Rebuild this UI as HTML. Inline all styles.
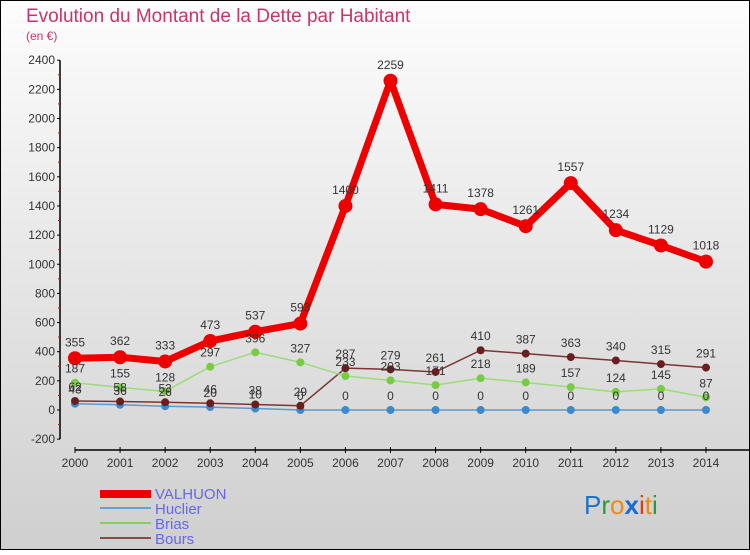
<!DOCTYPE html>
<html><head><meta charset="utf-8"><style>
body{margin:0;width:750px;height:550px;overflow:hidden;font-family:"Liberation Sans",sans-serif}
</style></head><body>
<svg id="c" width="750" height="550" xmlns="http://www.w3.org/2000/svg">
<defs><linearGradient id="bg" x1="0" y1="0" x2="0" y2="1"><stop offset="0" stop-color="#fdfdfd"/><stop offset="1" stop-color="#cfcfcf"/></linearGradient></defs>
<rect x="0.5" y="0.5" width="749" height="549" fill="url(#bg)" stroke="#000"/>
<text x="26" y="22" font-size="19" fill="#cc3366">Evolution du Montant de la Dette par Habitant</text>
<text x="26" y="40" font-size="12" fill="#cc3366">(en €)</text>
<g id="axes"></g><g id="series"></g><g id="labels"></g>
<g>
<rect x="100" y="490" width="51" height="8" fill="#e00"/>
<text x="155" y="499" font-size="15" fill="#6666ee">VALHUON</text>
<rect x="100" y="507" width="51" height="2" fill="#6aa0cc"/>
<text x="155" y="514" font-size="15" fill="#6666ee">Huclier</text>
<rect x="100" y="522" width="51" height="2" fill="#88cc66"/>
<text x="155" y="529" font-size="15" fill="#6666ee">Brias</text>
<rect x="100" y="537" width="51" height="2" fill="#8a4a4a"/>
<text x="155" y="544" font-size="15" fill="#6666ee">Bours</text>
</g>
<g font-size="26" font-family="Liberation Sans, sans-serif">
<text x="584" y="514"><tspan fill="#1a73d0">P</tspan><tspan fill="#2a9a3a">r</tspan><tspan fill="#f08a10">o</tspan><tspan fill="#1a6ad0" font-weight="bold">x</tspan><tspan fill="#e83a10">i</tspan><tspan fill="#f08a10">t</tspan><tspan fill="#2a9a3a">i</tspan></text>
</g>
</svg>
<script>
const years=["2000","2001","2002","2003","2004","2005","2006","2007","2008","2009","2010","2011","2012","2013","2014"];
const valhuon=[355,362,333,473,537,593,1400,2259,1411,1378,1261,1557,1234,1129,1018];
const huclier=[43,36,26,20,10,0,0,0,0,0,0,0,0,0,0];
const brias=[187,155,128,297,396,327,233,203,171,218,189,157,124,145,87];
const bours=[62,58,53,46,38,29,287,279,261,410,387,363,340,315,291];
const yTicks=[-200,0,200,400,600,800,1000,1200,1400,1600,1800,2000,2200,2400];
const NS="http://www.w3.org/2000/svg";
const X=i=>75+i*(706-75)/14;
const Y=v=>410-v*(29.15/200);
function mk(p,t,a){const e=document.createElementNS(NS,t);for(const k in a)e.setAttribute(k,a[k]);p.appendChild(e);return e;}
const ax=document.getElementById('axes');
const yl=mk(ax,'line',{x1:60,y1:Y(2400),x2:60,y2:Y(-200),stroke:'#000','stroke-width':1.5});


yTicks.forEach(v=>{
 mk(ax,'line',{x1:57,y1:Y(v),x2:60,y2:Y(v),stroke:'#000'});
 if(v<2400){mk(ax,'line',{x1:58,y1:Y(v+100),x2:60,y2:Y(v+100),stroke:'#e00'});}
 const t=mk(ax,'text',{x:55,y:Y(v)+4,'font-size':12,fill:'#333','text-anchor':'end'});
 t.textContent=v;
 
 
});
const xl=mk(ax,'line',{x1:75,y1:450,x2:750,y2:450,stroke:'#000','stroke-width':1.5});


years.forEach((y,i)=>{
 mk(ax,'line',{x1:X(i),y1:447,x2:X(i),y2:453,stroke:'#000'});
 const t=mk(ax,'text',{x:X(i),y:467,'font-size':12,fill:'#333','text-anchor':'middle'});
 t.textContent=y;
 
 
});
const sg=document.getElementById('series'),lg=document.getElementById('labels');
function series(name,data,color,dot,w,r,dy){
 const g=mk(sg,'g',{});
 
 
 mk(g,'polyline',{points:data.map((v,i)=>X(i)+','+Y(v)).join(' '),fill:'none',stroke:color,'stroke-width':w,'stroke-linejoin':'round'});
 data.forEach((v,i)=>{
  const c=mk(g,'circle',{cx:X(i),cy:Y(v),r:r,fill:dot});
  
  
  const t=mk(lg,'text',{x:X(i),y:Y(v)-dy,'font-size':12,fill:'#333','text-anchor':'middle'});
  t.textContent=v;
  
  
 });
}
series('huclier',huclier,'#5a9ad0','#3a8ad0',1.5,4,10);
series('bours',bours,'#7a3535','#6a1f1f',1.5,4,10);
series('brias',brias,'#99dd77','#77cc44',1.5,4,10);
series('valhuon',valhuon,'#ee0000','#ee0000',7,7,12);
</script>
</body></html>
